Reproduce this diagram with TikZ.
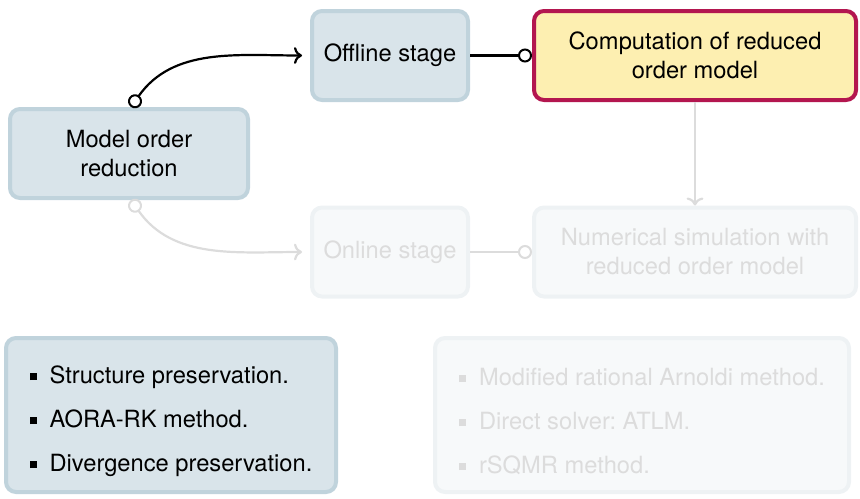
\documentclass[tikz,border=0pt]{standalone}
\usepackage{fontspec}
\setmainfont{TeX Gyre Heros}
\usetikzlibrary{arrows.meta}
\definecolor{blockfill}{HTML}{D9E4EA}
\definecolor{blockline}{HTML}{C0D3DC}
\definecolor{activefill}{HTML}{FDEFB1}
\definecolor{activeline}{HTML}{B3164F}
\definecolor{fadefill}{HTML}{F7F9FA}
\definecolor{fadeline}{HTML}{EEF2F4}
\definecolor{fadetext}{HTML}{DCDCDC}
\tikzstyle{block}=[draw=blockline, fill=blockfill, line width=2pt, rounded corners=5pt, align=center, minimum height=44.5pt, font=\fontsize{11.85}{14.5}\selectfont]
\tikzstyle{active block}=[block, draw=activeline, fill=activefill]
\tikzstyle{faded block}=[block, draw=fadeline, fill=fadefill, text=fadetext]
\tikzstyle{list block}=[block, align=left, minimum height=77pt]
\tikzstyle{faded list block}=[list block, draw=fadeline, fill=fadefill, text=fadetext]
\tikzstyle{link}=[line width=1.1pt]
\tikzstyle{faded link}=[link, draw=fadetext]
\tikzset{ring/.tip={Circle[length=7pt, width=7pt, fill=white, line width=1pt]}}
\newcommand{\listmark}{\raisebox{1.6pt}{\rule{3.5pt}{3.5pt}}\hspace{6.5pt}}
\newcommand{\liststrut}{\rule{0pt}{15pt}}
\frenchspacing

\begin{document}
\begin{tikzpicture}[x=0.5pt, y=-0.5pt]
      \useasboundingbox (0, 0) rectangle (860, 498);

      \node[block, minimum width=119pt] (mor) at (129, 153.5) {Model order\\reduction};
      \node[block, minimum width=78pt] (offline) at (390, 55.5) {Offline stage};
      \node[active block, minimum width=161pt] (rom) at (695, 55.5)
        {Computation of reduced\\order model};
      \node[faded block, minimum width=78pt] (online) at (390, 252) {Online stage};
      \node[faded block, minimum width=161pt] (sim) at (695, 252)
        {Numerical simulation with\\reduced order model};

      \node[list block, minimum width=165pt] (props) at (171, 415)
        {\liststrut\listmark Structure preservation.\\[7.5pt]
         \listmark AORA-RK method.\\[7.5pt]
         \listmark Divergence preservation.};
      \node[faded list block, minimum width=207pt] (solvers) at (642, 415)
        {\liststrut\listmark Modified rational Arnoldi method.\\[7.5pt]
         \listmark Direct solver: ATLM.\\[7.5pt]
         \listmark rSQMR method.};

      \draw[link, {ring}->, shorten >=4pt]
        ([xshift=1pt]mor.north) to[out=55, in=180] (offline.west);
      \draw[link, -{ring}] (offline.east) -- (rom.west);

      \draw[faded link, {ring}->, shorten >=4pt]
        ([xshift=1pt]mor.south) to[out=-55, in=180] (online.west);
      \draw[faded link, -{ring}] (online.east) -- (sim.west);
      \draw[faded link, ->] (rom.south) -- (sim.north);
    \end{tikzpicture}
\end{document}
